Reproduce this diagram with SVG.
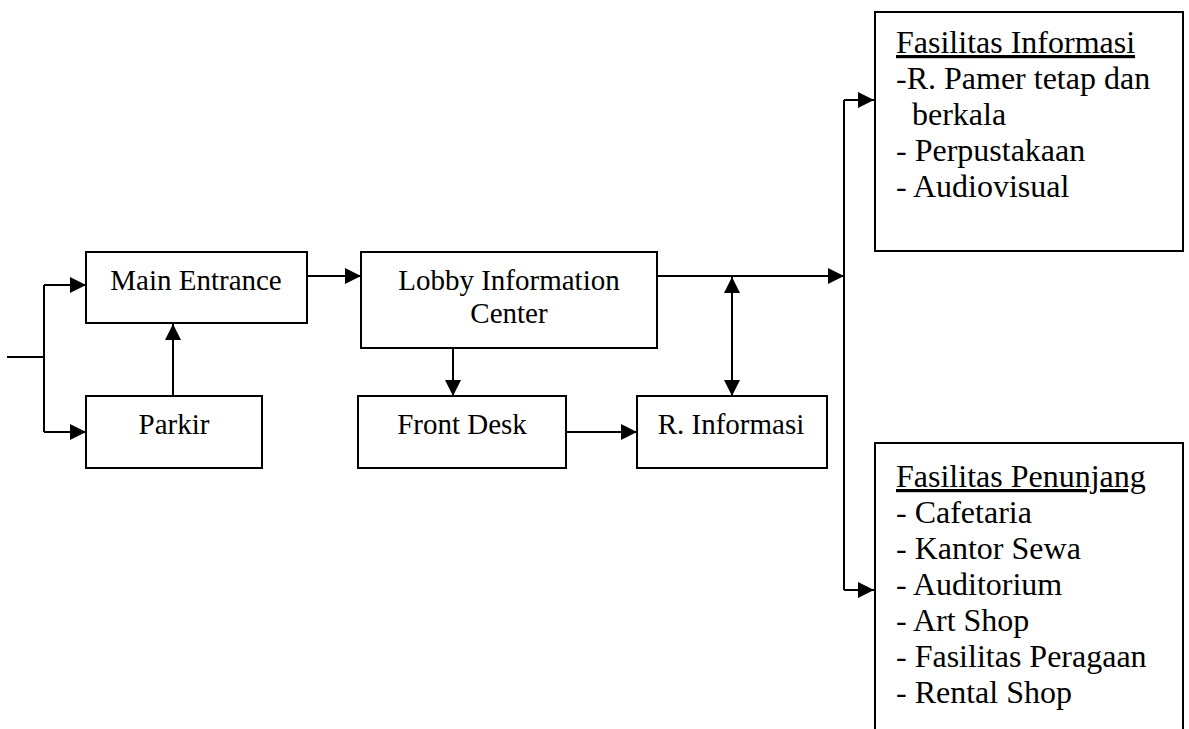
<svg xmlns="http://www.w3.org/2000/svg" width="1189" height="729" viewBox="0 0 1189 729">
  <style>
    .box { fill: #ffffff; stroke: #000000; stroke-width: 2; }
    .lbl { font-family: "Liberation Serif", "Times New Roman", serif; font-size: 29px; fill: #000000; text-anchor: middle; }
    .lst { font-family: "Liberation Serif", "Times New Roman", serif; font-size: 32px; fill: #000000; }
    .ul { text-decoration: underline; }
    .wire { fill: none; stroke: #000000; stroke-width: 2; }
    .arr { marker-end: url(#head); }
    .arr2 { marker-start: url(#head); marker-end: url(#head); }
  </style>
  <defs>
    <marker id="head" markerUnits="userSpaceOnUse" markerWidth="17" markerHeight="17" refX="16" refY="8" orient="auto-start-reverse">
      <path d="M0,0 L16,8 L0,16 Z" fill="#000000"/>
    </marker>
  </defs>
  <rect width="1189" height="729" fill="#ffffff"/>

  <g id="connectors">
    <!-- entry split -->
    <path class="wire" d="M7,357 H44"/>
    <path class="wire" d="M44,285 V432"/>
    <path class="wire arr" d="M44,285 H86"/>
    <path class="wire arr" d="M44,432 H86"/>
    <!-- parking to entrance -->
    <path class="wire arr" d="M173,396 V324"/>
    <!-- entrance to lobby -->
    <path class="wire arr" d="M307,276 H361"/>
    <!-- lobby onward to facilities -->
    <path class="wire arr" d="M657,276 H844"/>
    <path class="wire" d="M844,100 V590"/>
    <path class="wire arr" d="M844,100 H874"/>
    <path class="wire arr" d="M844,590 H874"/>
    <!-- lobby / info room two-way -->
    <path class="wire arr2" d="M732,277 V396"/>
    <!-- lobby to front desk -->
    <path class="wire arr" d="M453,348 V396"/>
    <!-- front desk to info room -->
    <path class="wire arr" d="M566,432 H637"/>
  </g>

  <g id="main-entrance">
    <rect class="box" x="86" y="252" width="221" height="71"/>
    <text class="lbl" x="196" y="290">Main Entrance</text>
  </g>

  <g id="parkir">
    <rect class="box" x="86" y="396" width="176" height="72"/>
    <text class="lbl" x="174" y="434">Parkir</text>
  </g>

  <g id="lobby">
    <rect class="box" x="361" y="252" width="296" height="96"/>
    <text class="lbl" x="509" y="290">Lobby Information</text>
    <text class="lbl" x="509" y="323">Center</text>
  </g>

  <g id="front-desk">
    <rect class="box" x="358" y="396" width="208" height="72"/>
    <text class="lbl" x="462" y="434">Front Desk</text>
  </g>

  <g id="r-informasi">
    <rect class="box" x="637" y="396" width="190" height="72"/>
    <text class="lbl" x="731" y="434">R. Informasi</text>
  </g>

  <g id="fasilitas-informasi">
    <rect class="box" x="875" y="12" width="308" height="239"/>
    <text class="lst ul" x="896" y="53">Fasilitas Informasi</text>
    <text class="lst" x="896" y="89">-R. Pamer tetap dan</text>
    <text class="lst" x="912" y="125">berkala</text>
    <text class="lst" x="896" y="161">- Perpustakaan</text>
    <text class="lst" x="896" y="197">- Audiovisual</text>
  </g>

  <g id="fasilitas-penunjang">
    <rect class="box" x="875" y="443" width="308" height="320"/>
    <text class="lst ul" x="896" y="487">Fasilitas Penunjang</text>
    <text class="lst" x="896" y="523">- Cafetaria</text>
    <text class="lst" x="896" y="559">- Kantor Sewa</text>
    <text class="lst" x="896" y="595">- Auditorium</text>
    <text class="lst" x="896" y="631">- Art Shop</text>
    <text class="lst" x="896" y="667">- Fasilitas Peragaan</text>
    <text class="lst" x="896" y="703">- Rental Shop</text>
  </g>
</svg>
